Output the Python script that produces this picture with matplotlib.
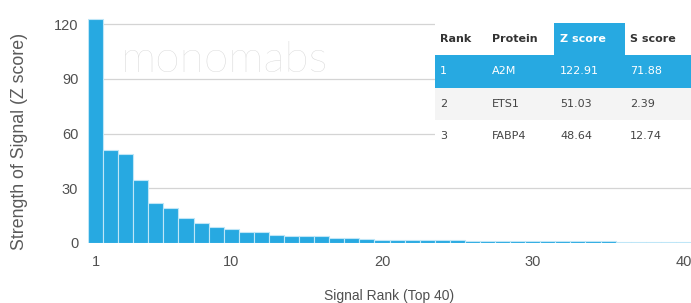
import matplotlib
matplotlib.use("Agg")
import matplotlib.pyplot as plt
from matplotlib.patches import Rectangle

# ---------------- data ----------------
ranks = list(range(1, 41))
z_scores = [122.91, 51.03, 48.64, 34.4, 22.1, 19.4, 13.7, 11.2, 8.8, 7.5,
            6.1, 6.0, 4.4, 3.8, 3.7, 3.7, 3.0, 2.8, 2.0, 1.9,
            1.9, 1.8, 1.7, 1.6, 1.4, 1.3, 1.3, 1.2, 1.2, 1.1,
            1.1, 1.0, 1.0, 0.9, 0.9, 0.8, 0.8, 0.8, 0.7, 0.7]
x_ticks = [1, 10, 20, 30, 40]
y_ticks = [0, 30, 60, 90, 120]

table_header = ["Rank", "Protein", "Z score", "S score"]
table_rank = ["1", "2", "3"]
table_protein = ["A2M", "ETS1", "FABP4"]
table_z = ["122.91", "51.03", "48.64"]
table_s = ["71.88", "2.39", "12.74"]

BLUE = "#27a9e1"
W, H = 691, 303
plt.rcParams["font.family"] = ["Liberation Sans", "DejaVu Sans"]

fig = plt.figure(figsize=(W / 100, H / 100), dpi=100)

def fx(px):
    return px / W

def fy(py):
    return 1 - py / H

# main axes: left 88px, right 691px, bottom 243px, top 16.7px
ax = fig.add_axes([fx(88), fy(243), fx(691) - fx(88), (243 - 16.7) / H])
ax.bar(ranks, z_scores, width=1.0, color=BLUE, edgecolor="#bfe6f7", linewidth=0.8, zorder=3)
ax.set_xlim(0.5, 40.5)
ax.set_ylim(0, 124)
ax.set_xticks(x_ticks)
ax.set_yticks(y_ticks)
ax.yaxis.grid(True, color="#d4d4d4", linewidth=0.9, zorder=0)
ax.set_axisbelow(True)
for s in ax.spines.values():
    s.set_visible(False)
ax.tick_params(length=0, labelsize=10.5, colors="#505050")
ax.tick_params(axis="x", pad=9)
ax.tick_params(axis="y", pad=7)
ax.set_xlabel("Signal Rank (Top 40)", fontsize=10, color="#505050", labelpad=14)
ax.set_ylabel("Strength of Signal (Z score)", fontsize=12.8, color="#5a5a5a")
ax.yaxis.set_label_coords((20 - 88) / 603, (243 - 141) / 226.3)
ax.yaxis.label.set_va("center")

# watermark
fig.text(fx(225), fy(60), "monomabs", fontsize=32, color="#d6d6d6", family="Lato",
         fontweight="light", ha="center", va="center", zorder=1)

# ---------------- table ----------------
tleft, tright = 435, 691
row_tops = [23, 55, 88, 120, 152]
col_x = [440, 492, 560, 630]
zcol = (554, 625)

def rect(x0, y0, x1, y1, color):
    fig.patches.append(Rectangle((fx(x0), fy(y1)), fx(x1) - fx(x0), fy(y0) - fy(y1),
                                 transform=fig.transFigure, facecolor=color,
                                 edgecolor="none", zorder=5))

rect(tleft, row_tops[0], tright, row_tops[4], "white")
rect(zcol[0], row_tops[0], zcol[1], row_tops[1], BLUE)
rect(tleft, row_tops[1], tright, row_tops[2], BLUE)
rect(tleft, row_tops[2], tright, row_tops[3], "#f4f4f4")

for i, h in enumerate(table_header):
    c = "white" if i == 2 else "#333333"
    fig.text(fx(col_x[i]), fy((row_tops[0] + row_tops[1]) / 2), h, fontsize=8,
             fontweight="bold", color=c, ha="left", va="center", zorder=6,
             family="DejaVu Sans")

rows = list(zip(table_rank, table_protein, table_z, table_s))
for r, vals in enumerate(rows):
    yc = fy((row_tops[r + 1] + row_tops[r + 2]) / 2)
    c = "white" if r == 0 else "#444444"
    for i, v in enumerate(vals):
        fig.text(fx(col_x[i]), yc, v, fontsize=8, color=c, ha="left", va="center", zorder=6,
                 family="DejaVu Sans")

fig.savefig("out.png", dpi=100)
